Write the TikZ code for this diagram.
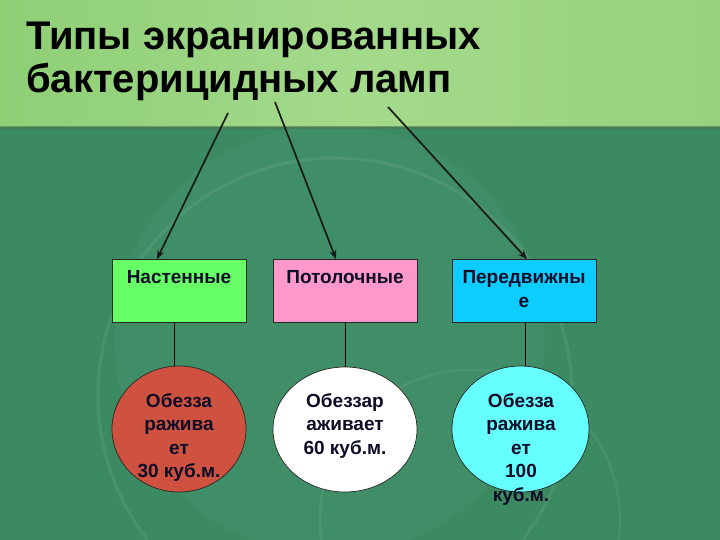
\documentclass[tikz,border=0pt]{standalone}
\usepackage{fontspec}
\setmainfont{Liberation Sans}
\usetikzlibrary{shapes.geometric,arrows.meta}
\definecolor{bandL}{HTML}{8ECF76}
\definecolor{bandM}{HTML}{A4DA8B}
\definecolor{bandR}{HTML}{97D27C}
\definecolor{lowA}{HTML}{3C8A61}
\definecolor{lowB}{HTML}{489470}
\definecolor{boxgreen}{HTML}{66FF66}
\definecolor{boxpink}{HTML}{FF99CC}
\definecolor{boxblue}{HTML}{0DCCFF}
\definecolor{ovred}{HTML}{CF5240}
\definecolor{ovcyan}{HTML}{66FFFF}
\definecolor{txtcol}{HTML}{0D0D26}
\begin{document}
\begin{tikzpicture}[x=1pt,y=-1pt,
  boxstyle/.style={draw=black!85, line width=0.8pt, minimum height=63pt, inner sep=0pt},
  ovalstyle/.style={ellipse, draw=black!85, line width=0.7pt, inner sep=0pt},
  lbl/.style={font=\bfseries\fontsize{19}{23.5}\selectfont, text=txtcol, align=center, inner sep=0pt, anchor=north},
  arr/.style={-{Stealth[length=9pt,width=7pt]}, line width=1.7pt, draw=black!90},
  link/.style={line width=0.9pt, draw=black}]
\useasboundingbox (0,0) rectangle (720,540);
% background
\fill[lowA] (0,127) rectangle (720,540);
\begin{scope}
  \clip (0,127) rectangle (720,540);
  \fill[lowB, opacity=0.4] (330,340) circle (215);
  \fill[lowA, opacity=0.5] (720,540) circle (170);
  \draw[white, opacity=0.07, line width=3pt] (335,395) circle (237);
  \draw[white, opacity=0.06, line width=2.5pt] (470,520) circle (150);
\end{scope}
\shade[left color=bandL, right color=bandR, middle color=bandM] (0,0) rectangle (720,127);
\fill[black!60!green!40!gray, opacity=0.6] (0,126) rectangle (720,129);
% title
\node[anchor=north west, inner sep=0pt, align=left, text=black,
      font=\bfseries\fontsize{40}{43}\selectfont] (title) at (26,21.5)
  {Типы экранированных\\бактерицидных ламп};
% boxes
\node[boxstyle, fill=boxgreen, minimum width=134pt] (b1) at (179,291) {};
\node[boxstyle, fill=boxpink, minimum width=144pt] (b2) at (345,291) {};
\node[boxstyle, fill=boxblue, minimum width=144pt] (b3) at (524,291) {};
\node[lbl] (t1) at (179,270.5) {Настенные};
\node[lbl] (t2) at (345,270.5) {Потолочные};
\node[lbl] (t3) at (524,270.5) {Передвижны\\е};
% ovals
\node[ovalstyle, fill=ovred, minimum width=134pt, minimum height=126pt] (c1) at (179,429) {};
\node[ovalstyle, fill=white, minimum width=144pt, minimum height=125pt] (c2) at (345,429.5) {};
\node[ovalstyle, fill=ovcyan, minimum width=137pt, minimum height=126pt] (c3) at (520.5,429) {};
\node[lbl] (o1) at (179,393) {Обезза\\ражива\\ет\\30 куб.м.};
\node[lbl] (o2) at (345,393) {Обеззар\\аживает\\60 куб.м.};
\node[lbl] (o3) at (521,393) {Обезза\\ражива\\ет\\100\\куб.м.};
% arrows
\coordinate (s1) at (228,113);
\coordinate (s2) at (275,102);
\coordinate (s3) at (388,107);
\draw[arr] (s1) -- ([xshift=-22pt]b1.north);
\draw[arr] (s2) -- ([xshift=-9pt]b2.north);
\draw[arr] (s3) -- ([xshift=3pt]b3.north);
% links
\draw[link] ([xshift=-5pt]b1.south) -- ([xshift=-5pt]c1.north);
\draw[link] (b2.south) -- (c2.north);
\draw[link] ([xshift=1pt]b3.south) -- ([xshift=4.5pt]c3.north);
\end{tikzpicture}
\end{document}
